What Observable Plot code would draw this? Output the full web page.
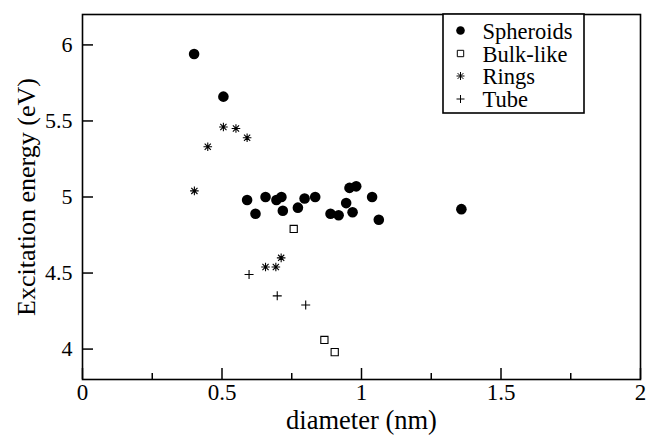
<!DOCTYPE html>
<html><head><meta charset="utf-8">
<script src="https://cdn.jsdelivr.net/npm/d3@7"></script>
<script src="https://cdn.jsdelivr.net/npm/@observablehq/plot@0.6"></script>
<style>html,body{margin:0;padding:0;background:#fff}
svg text{font-family:"Liberation Serif","DejaVu Serif",serif !important}</style>
</head><body><div id="chart"></div>
<script>
// ---- data ----
const spheroidsDiameter = [0.400, 0.505, 0.590, 0.620, 0.656, 0.695, 0.713, 0.718, 0.772, 0.796, 0.834, 0.889, 0.918, 0.945, 0.968, 0.957, 0.981, 1.038, 1.062, 1.358];
const spheroidsEnergy   = [5.94, 5.66, 4.98, 4.89, 5.00, 4.98, 5.00, 4.91, 4.93, 4.99, 5.00, 4.89, 4.88, 4.96, 4.90, 5.06, 5.07, 5.00, 4.85, 4.92];
const bulkDiameter = [0.757, 0.867, 0.904];
const bulkEnergy   = [4.79, 4.06, 3.98];
const ringsDiameter = [0.401, 0.449, 0.505, 0.550, 0.590, 0.656, 0.693, 0.712];
const ringsEnergy   = [5.04, 5.33, 5.46, 5.45, 5.39, 4.54, 4.54, 4.60];
const tubeDiameter = [0.597, 0.698, 0.800];
const tubeEnergy   = [4.49, 4.35, 4.29];

const xMajorTicks = [0, 0.5, 1, 1.5, 2];
const xMinorTicks = [0.25, 0.75, 1.25, 1.75];
const yMajorTicks = [4, 4.5, 5, 5.5, 6];
const xTickLabels = ["0", "0.5", "1", "1.5", "2"];
const yTickLabels = ["4", "4.5", "5", "5.5", "6"];
const seriesNames = ["Spheroids", "Bulk-like", "Rings", "Tube"];

// ---- symbols ----
const starSymbol = {
  draw(ctx, size) {
    const r = Math.sqrt(size / Math.PI), d = r * 0.72;
    ctx.moveTo(0, -r); ctx.lineTo(0, r);
    ctx.moveTo(-r, 0); ctx.lineTo(r, 0);
    ctx.moveTo(-d, -d); ctx.lineTo(d, d);
    ctx.moveTo(-d, d); ctx.lineTo(d, -d);
  }
};
const plusSymbol = {
  draw(ctx, size) {
    const r = Math.sqrt(size / Math.PI);
    ctx.moveTo(0, -r); ctx.lineTo(0, r);
    ctx.moveTo(-r, 0); ctx.lineTo(r, 0);
  }
};
const squareSymbol = {
  draw(ctx, size) {
    const r = Math.sqrt(size / Math.PI);
    ctx.rect(-r, -r, 2 * r, 2 * r);
  }
};

const zip = (xs, ys) => xs.map((x, i) => ({x, y: ys[i]}));
const spheroids = zip(spheroidsDiameter, spheroidsEnergy);
const bulk = zip(bulkDiameter, bulkEnergy);
const rings = zip(ringsDiameter, ringsEnergy);
const tube = zip(tubeDiameter, tubeEnergy);

const W = 647, H = 443, mL = 82, mR = 7, mT = 14, mB = 64;
const fw = W - mL - mR, fh = H - mT - mB;
const font = "'Liberation Serif', serif";

const legendStyles = [
  {symbol: "circle", r: 4.3, fill: "black", stroke: "none"},
  {symbol: squareSymbol, r: 3.2, fill: "white", stroke: "black"},
  {symbol: starSymbol, r: 4, fill: "none", stroke: "black"},
  {symbol: plusSymbol, r: 4, fill: "none", stroke: "black"}
];
const legendRowDy = [16, 39, 61.5, 84.5];

const legendMarks = [
  Plot.rect([0], {insetLeft: 361, insetRight: 56, insetTop: 0, insetBottom: 266, fill: "white", stroke: "black", strokeWidth: 1.6})
];
seriesNames.forEach((name, i) => {
  const s = legendStyles[i];
  legendMarks.push(Plot.dot([name], {frameAnchor: "top-left", dx: 378, dy: legendRowDy[i], symbol: s.symbol, r: s.r, fill: s.fill, stroke: s.stroke, strokeWidth: 1}));
  legendMarks.push(Plot.text([name], {text: d => d, frameAnchor: "top-left", dx: 400, dy: legendRowDy[i] + 1, textAnchor: "start", lineAnchor: "middle", fontSize: 22.5, fontFamily: font, fill: "black"}));
});

const chart = Plot.plot({
  width: W, height: H,
  marginLeft: mL, marginRight: mR, marginTop: mT, marginBottom: mB,
  style: {fontFamily: font, fontSize: "21px", color: "black", background: "white"},
  x: {domain: [0, 2]},
  y: {domain: [3.8, 6.2]},
  marks: [
    Plot.axisX(xMajorTicks, {tickSize: 0, tickPadding: 4, tickFormat: (d, i) => xTickLabels[i], fontSize: 23, fontFamily: font, label: null}),
    Plot.axisY(yMajorTicks, {tickSize: 0, tickPadding: 10, tickFormat: (d, i) => yTickLabels[i], fontSize: 22, fontFamily: font, label: null}),
    Plot.tickX(xMajorTicks, {x: d => d, insetTop: fh - 11, stroke: "black", strokeWidth: 1.5}),
    Plot.tickX(xMinorTicks, {x: d => d, insetTop: fh - 6, stroke: "black", strokeWidth: 1.5}),
    Plot.tickY(yMajorTicks, {y: d => d, insetRight: fw - 11, stroke: "black", strokeWidth: 1.5}),
    Plot.frame({stroke: "black", strokeWidth: 1.6}),
    Plot.dot(spheroids, {x: "x", y: "y", symbol: "circle", r: 5.3, fill: "black", stroke: "none"}),
    Plot.dot(bulk, {x: "x", y: "y", symbol: squareSymbol, r: 3.6, fill: "white", stroke: "black", strokeWidth: 1.1}),
    Plot.dot(rings, {x: "x", y: "y", symbol: starSymbol, r: 4.3, fill: "none", stroke: "black", strokeWidth: 1.1}),
    Plot.dot(tube, {x: "x", y: "y", symbol: plusSymbol, r: 4.5, fill: "none", stroke: "black", strokeWidth: 1.1}),
    ...legendMarks,
    Plot.text(["diameter (nm)"], {text: d => d, frameAnchor: "bottom", dy: 41, textAnchor: "middle", lineAnchor: "middle", fontSize: 26.5, fontFamily: font, fill: "black"}),
    Plot.text(["Excitation energy (eV)"], {text: d => d, frameAnchor: "left", dx: -56, rotate: -90, textAnchor: "middle", lineAnchor: "middle", fontSize: 26, fontFamily: font, fill: "black"})
  ]
});
document.getElementById("chart").appendChild(chart);
</script>
</body></html>
